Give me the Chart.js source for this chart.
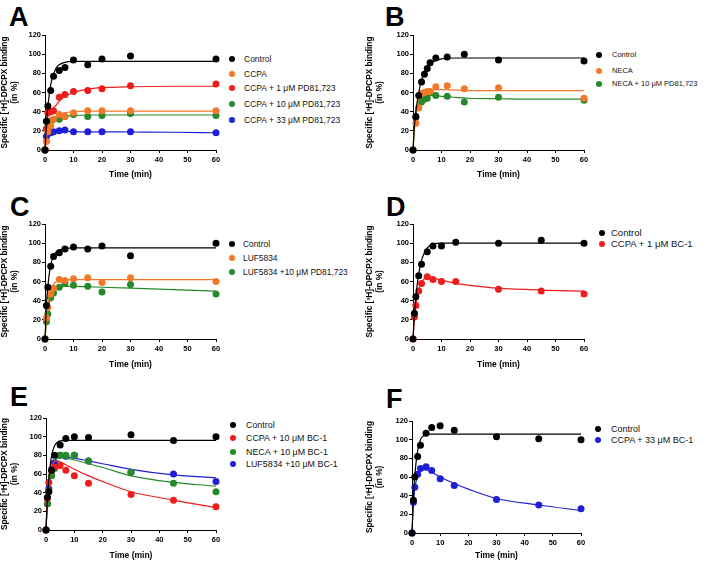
<!DOCTYPE html>
<html>
<head>
<meta charset="utf-8">
<script src="https://cdn.jsdelivr.net/npm/chart.js@4.4.1/dist/chart.umd.min.js"></script>
<style>
  body { margin: 0; background: #fff; font-family: "Liberation Sans", Arial, sans-serif; }
  #fig { position: relative; width: 709px; height: 561px; overflow: hidden; background: #fff; }
  #fig canvas { position: absolute; }
  .letter { position: absolute; font-weight: bold; font-size: 27px; line-height: 1; }
  .lg-row { position: absolute; line-height: 12px; white-space: nowrap; color: #111; }
  .lg-dot { position: absolute; width: 6px; height: 6px; border-radius: 50%; }
</style>
</head>
<body>
<div id="fig"></div>
<script>
// ---- colours ----
const BLACK = '#000000';
const ORANGE = '#f5782a';
const RED = '#ee1d1d';
const GREEN = '#26892a';
const BLUE = '#1f1fd8';

// ---- shared x values for the fitted curves (min) ----
const fitTimes = [0, 0.5, 1, 2, 3, 4, 5, 7, 10, 15, 20, 30, 45, 60];

// ---- Panel A ----
const timesA = [0, 0.5, 1, 2, 3, 5, 7, 10, 15, 20, 30, 60];
const aControl = [0, 30, 46, 62, 77, 83, 86, 94, 89, 95, 98, 95];
const aCcpa    = [0, 9, 19, 25, 32, 37, 35, 39, 41, 41, 41, 41];
const aCcpa1   = [0, 22, 39, 40, 41, 55, 58, 61, 62, 64, 67, 69];
const aCcpa10  = [0, 22, 24, 30, 32, 32, 35, 37, 35, 36, 38, 36];
const aCcpa33  = [0, 14, 17, 18, 19, 20, 21, 19, 19, 19, 19, 18];
const aControlFit = [0, 26, 45, 68, 79, 86, 89, 91.5, 92.4, 92.5, 92.5, 92.5, 92.5, 92.5];
const aCcpaFit    = [0, 13, 20, 27, 32, 35, 37, 39, 40, 40.5, 40.5, 40.5, 40.5, 40.5];
const aCcpa1Fit   = [0, 25, 34, 40, 44, 47, 51, 56, 60, 63.5, 65, 66, 66.5, 66.5];
const aCcpa10Fit  = [0, 18, 24, 29, 32, 33.5, 34.5, 35.5, 36, 36.5, 36.5, 36.5, 36.5, 36.5];
const aCcpa33Fit  = [0, 14, 17, 18.5, 19, 19.5, 19.5, 19.5, 19.2, 19, 19, 18.8, 18.5, 18];

// ---- Panel B ----
const timesB = [0, 1, 2, 3, 4, 5, 6, 8, 12, 18, 30, 60];
const bControl = [0, 35, 57, 71, 79, 85, 91, 96, 97, 100, 94, 93];
const bNeca    = [0, 28, 44, 59, 60, 61, 61, 66, 67, 64, 65, 54];
const bNeca10  = [0, 34, 44, 50, 53, 54, 60, 57, 56, 50, 55, 52];
const bControlFit = [0, 25, 40, 60, 73, 81, 86, 92, 95, 96, 96, 96, 96, 96];
const bNecaFit    = [0, 25, 40, 53, 59, 61.5, 62.5, 63, 63, 62.5, 62, 62, 62, 62];
const bNeca10Fit  = [0, 22, 36, 47, 52, 55, 56.5, 57, 56, 55, 54, 53.5, 53, 53];

// ---- Panel C ----
const timesC = [0, 0.5, 1, 2, 3, 5, 7, 10, 15, 20, 30, 60];
const cControl = [0, 35, 54, 76, 86, 90, 94, 96, 94, 97, 87, 100];
const cLuf     = [0, 22, 33, 47, 53, 62, 61, 63, 64, 59, 64, 60];
const cLuf10   = [0, 18, 26, 43, 48, 54, 58, 56, 55, 49, 57, 47];
const cControlFit = [0, 35, 55, 77, 87, 91, 93, 94.5, 95, 95, 95, 95, 95, 95];
const cLufFit     = [0, 22, 35, 50, 57, 60, 61.5, 62, 62, 62, 62, 62, 62, 62];
const cLuf10Fit   = [0, 18, 30, 43, 49, 52, 54, 55, 55, 54.5, 54, 53, 51.5, 50];

// ---- Panel D ----
const timesD = [0, 0.5, 1, 2, 3, 5, 7, 10, 15, 30, 45, 60];
const dControl = [0, 27, 44, 66, 78, 91, 97, 97, 101, 100, 103, 100];
const dBc1     = [0, 23, 35, 50, 58, 65, 62, 60, 60, 52, 50, 47];
const dControlFit = [0, 25, 44, 68, 82, 90, 95, 99, 100, 100, 100, 100, 100, 100];
const dBc1Fit     = [0, 22, 35, 51, 59, 63, 64, 63.5, 61.5, 58, 56, 53, 51, 50];

// ---- Panel E ----
const timesE = [0, 0.5, 1, 2, 3, 5, 7, 10, 15, 30, 45, 60];
const eControl = [0, 35, 41, 64, 80, 91, 98, 100, 99, 102, 96, 100];
const eCcpa    = [0, 34, 51, 64, 67, 69, 64, 58, 50, 38, 32, 25];
const eNeca    = [0, 28, 42, 58, 66, 80, 80, 80, 74, 62, 50, 41];
const eLuf     = [0, 28, 44, 65, 72, 80, 79, 80, 74, 62, 60, 52];
const eControlFit = [0, 35, 55, 80, 90, 94, 95.5, 96, 96, 96, 96, 96, 96, 96];
const eCcpaFit    = [0, 35, 52, 68, 73, 74, 73, 70, 65, 58, 52, 41, 32, 24];
const eNecaFit    = [0, 30, 47, 65, 74, 77, 78, 77, 75, 71, 67, 58, 51, 47];
const eLufFit     = [0, 30, 47, 65, 74, 78, 79, 78.5, 77, 74, 71, 65, 59, 56];

// ---- Panel F ----
const timesF = [0, 0.5, 1, 2, 3, 5, 7, 10, 15, 30, 45, 60];
const fControl = [0, 35, 60, 82, 94, 107, 113, 115, 110, 103, 101, 100];
const fBc1     = [0, 33, 49, 63, 69, 71, 67, 58, 51, 36, 30, 26];
const fControlFit = [0, 38, 62, 88, 100, 104, 105.5, 106, 106, 106, 106, 106, 106, 106];
const fBc1Fit     = [0, 33, 48, 61, 66, 67.5, 67.5, 65, 60, 53, 47, 37, 30, 24];

// ---- axis ticks ----
const xTicks = [0, 10, 20, 30, 40, 50, 60];
const yTicks = [0, 20, 40, 60, 80, 100, 120];
const xTitle = 'Time (min)';
const yTitle = ['Specific [³H]-DPCPX binding', '(in %)'];

// panel descriptions: series + where they sit on the page
const panels = [
  { letter: 'A', letterPos: [9, 4],
    canvas: { left: 0, top: 28, width: 226, height: 152 }, area: { left: 45, top: 35, right: 216, bottom: 150 },
    legend: { dotX: 232, textX: 244, size: 8.5, rows: [59, 74, 88, 104, 120] },
    times: timesA,
    series: [
      { label: 'Control', color: BLACK, values: aControl, fit: aControlFit },
      { label: 'CCPA', color: ORANGE, values: aCcpa, fit: aCcpaFit },
      { label: 'CCPA + 1 μM PD81,723', color: RED, values: aCcpa1, fit: aCcpa1Fit },
      { label: 'CCPA + 10 μM PD81,723', color: GREEN, values: aCcpa10, fit: aCcpa10Fit },
      { label: 'CCPA + 33 μM PD81,723', color: BLUE, values: aCcpa33, fit: aCcpa33Fit }
    ] },
  { letter: 'B', letterPos: [385, 4],
    canvas: { left: 365, top: 28, width: 228, height: 152 }, area: { left: 413, top: 35, right: 584, bottom: 150 },
    legend: { dotX: 599, textX: 612, size: 7.5, rows: [55, 71, 84] },
    times: timesB,
    series: [
      { label: 'Control', color: BLACK, values: bControl, fit: bControlFit },
      { label: 'NECA', color: ORANGE, values: bNeca, fit: bNecaFit },
      { label: 'NECA + 10 μM PD81,723', color: GREEN, values: bNeca10, fit: bNeca10Fit }
    ] },
  { letter: 'C', letterPos: [10, 194],
    canvas: { left: 0, top: 215, width: 226, height: 155 }, area: { left: 45, top: 224, right: 216, bottom: 339 },
    legend: { dotX: 232, textX: 243, size: 8.4, rows: [244, 258, 272] },
    times: timesC,
    series: [
      { label: 'Control', color: BLACK, values: cControl, fit: cControlFit },
      { label: 'LUF5834', color: ORANGE, values: cLuf, fit: cLufFit },
      { label: 'LUF5834 +10 μM PD81,723', color: GREEN, values: cLuf10, fit: cLuf10Fit }
    ] },
  { letter: 'D', letterPos: [386, 194],
    canvas: { left: 365, top: 215, width: 228, height: 155 }, area: { left: 413, top: 224, right: 584, bottom: 339 },
    legend: { dotX: 602, textX: 611, size: 9.5, rows: [233, 244] },
    times: timesD,
    series: [
      { label: 'Control', color: BLACK, values: dControl, fit: dControlFit },
      { label: 'CCPA + 1 μM BC-1', color: RED, values: dBc1, fit: dBc1Fit }
    ] },
  { letter: 'E', letterPos: [10, 384],
    canvas: { left: 0, top: 410, width: 226, height: 151 }, area: { left: 46, top: 418, right: 216, bottom: 530 },
    legend: { dotX: 233, textX: 246, size: 8.9, rows: [425, 438, 452, 464] },
    times: timesE,
    series: [
      { label: 'Control', color: BLACK, values: eControl, fit: eControlFit },
      { label: 'CCPA + 10 μM BC-1', color: RED, values: eCcpa, fit: eCcpaFit },
      { label: 'NECA + 10 μM BC-1', color: GREEN, values: eNeca, fit: eNecaFit },
      { label: 'LUF5834 +10 μM BC-1', color: BLUE, values: eLuf, fit: eLufFit }
    ] },
  { letter: 'F', letterPos: [386, 386],
    canvas: { left: 365, top: 410, width: 225, height: 151 }, area: { left: 412, top: 421, right: 581, bottom: 533 },
    legend: { dotX: 598, textX: 611, size: 9, rows: [429, 440] },
    times: timesF,
    series: [
      { label: 'Control', color: BLACK, values: fControl, fit: fControlFit },
      { label: 'CCPA + 33 μM BC-1', color: BLUE, values: fBc1, fit: fBc1Fit }
    ] }
];

const fig = document.getElementById('fig');
const FONT = '"Liberation Sans", Arial, sans-serif';

function axisCommon() {
  return {
    border: { display: true, color: '#000', width: 1 },
    grid: { display: true, drawOnChartArea: false, drawTicks: true, tickLength: 3, color: '#000', lineWidth: 1 },
  };
}

panels.forEach(p => {
  // panel letter
  const letter = document.createElement('div');
  letter.className = 'letter';
  letter.textContent = p.letter;
  letter.style.left = p.letterPos[0] + 'px';
  letter.style.top = p.letterPos[1] + 'px';
  fig.appendChild(letter);

  // legend
  p.series.forEach((s, i) => {
    const cy = p.legend.rows[i];
    const dot = document.createElement('div');
    dot.className = 'lg-dot';
    dot.style.background = s.color;
    dot.style.left = (p.legend.dotX - 3) + 'px';
    dot.style.top = (cy - 3) + 'px';
    fig.appendChild(dot);
    const row = document.createElement('div');
    row.className = 'lg-row';
    row.textContent = s.label;
    row.style.fontSize = p.legend.size + 'px';
    row.style.left = p.legend.textX + 'px';
    row.style.top = (cy - 6) + 'px';
    fig.appendChild(row);
  });

  // canvas
  const c = p.canvas, a = p.area;
  const cv = document.createElement('canvas');
  cv.width = c.width; cv.height = c.height;
  cv.style.left = c.left + 'px'; cv.style.top = c.top + 'px';
  cv.style.width = c.width + 'px'; cv.style.height = c.height + 'px';
  fig.appendChild(cv);

  const yWidth = a.left - c.left;
  const xHeight = c.top + c.height - a.bottom;
  const padTop = a.top - c.top;
  const padRight = c.left + c.width - a.right;

  const datasets = [];
  p.series.forEach(s => {
    datasets.push({
      type: 'line',
      label: s.label + ' fit',
      data: fitTimes.map((t, i) => ({ x: t, y: s.fit[i] })),
      borderColor: s.color,
      borderWidth: 1.2,
      pointRadius: 0,
      fill: false,
      cubicInterpolationMode: 'monotone',
      clip: false
    });
    datasets.push({
      type: 'scatter',
      label: s.label,
      data: p.times.map((t, i) => ({ x: t, y: s.values[i] })),
      backgroundColor: s.color,
      borderWidth: 0,
      pointRadius: 3.5,
      clip: false
    });
  });

  new Chart(cv, {
    type: 'scatter',
    data: { datasets },
    options: {
      responsive: false,
      animation: false,
      layout: { padding: { top: padTop, right: padRight, left: 0, bottom: 0 } },
      plugins: { legend: { display: false }, tooltip: { enabled: false } },
      scales: {
        x: Object.assign(axisCommon(), {
          type: 'linear', min: 0, max: 60,
          afterBuildTicks: sc => { sc.ticks = xTicks.map(v => ({ value: v })); },
          afterFit: sc => { sc.height = xHeight; },
          ticks: { color: '#000', padding: 2, font: { family: FONT, size: 7.5, weight: 'bold' } },
          title: { display: true, text: xTitle, color: '#000', padding: { top: 2, bottom: 0 },
                   font: { family: FONT, size: 8.5, weight: 'bold' } }
        }),
        y: Object.assign(axisCommon(), {
          type: 'linear', min: 0, max: 120,
          afterBuildTicks: sc => { sc.ticks = yTicks.map(v => ({ value: v })); },
          afterFit: sc => { sc.width = yWidth; },
          ticks: { color: '#000', padding: 1, font: { family: FONT, size: 7.5, weight: 'bold' } },
          title: { display: true, text: yTitle, color: '#000', padding: { top: 0, bottom: 3 },
                   font: { family: FONT, size: 8.3, weight: 'bold', lineHeight: 1.15 } }
        })
      }
    }
  });
});
</script>
</body>
</html>
